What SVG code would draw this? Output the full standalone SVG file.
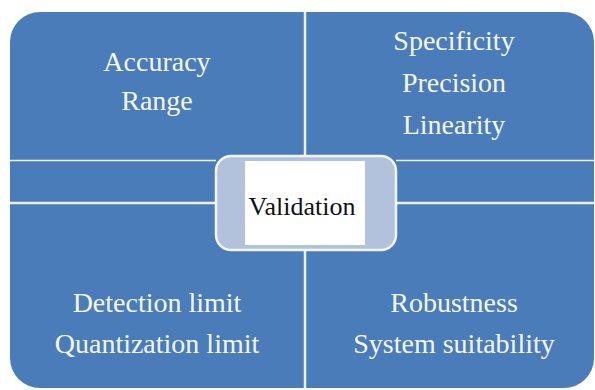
<svg xmlns="http://www.w3.org/2000/svg" width="595" height="390" viewBox="0 0 595 390">
<style>
.q{fill:#4A7CBA}
.t{font-family:'Liberation Serif','DejaVu Serif',serif;font-size:28px;fill:#F4F7FB;text-anchor:middle}
.ln{stroke:#EEF2F8;fill:none}
</style>
<rect width="595" height="390" fill="#ffffff"/>
<g id="matrix">
<rect class="q" x="10" y="12" width="584" height="376" rx="30" ry="30"/>
</g>
<g id="connectors">
<line class="ln" x1="305" y1="12" x2="305" y2="156" stroke-width="2.5"/>
<line class="ln" x1="305" y1="250" x2="305" y2="388" stroke-width="2.5"/>
<line class="ln" x1="10" y1="160.5" x2="216" y2="160.5" stroke-width="1.5"/>
<line class="ln" x1="396" y1="160.5" x2="594" y2="160.5" stroke-width="1.5"/>
<line class="ln" x1="10" y1="203" x2="216" y2="203" stroke-width="2.5"/>
<line class="ln" x1="396" y1="203" x2="594" y2="203" stroke-width="2.5"/>
</g>
<g id="q-top-left">
<text class="t" x="157" y="71">Accuracy</text>
<text class="t" x="157" y="110">Range</text>
</g>
<g id="q-top-right">
<text class="t" x="454" y="50">Specificity</text>
<text class="t" x="454" y="92">Precision</text>
<text class="t" x="454" y="134">Linearity</text>
</g>
<g id="q-bottom-left">
<text class="t" x="157" y="312">Detection limit</text>
<text class="t" x="157" y="353">Quantization limit</text>
</g>
<g id="q-bottom-right">
<text class="t" x="454" y="312">Robustness</text>
<text class="t" x="454" y="353">System suitability</text>
</g>
<g id="validation">
<rect x="216" y="156" width="180" height="94" rx="15" ry="15" fill="#B3C2DC" stroke="#F2F5FA" stroke-width="2.5"/>
<rect x="245" y="161" width="120" height="84" fill="#FFFFFF"/>
<text x="302" y="215" style="font-family:'Liberation Serif','DejaVu Serif',serif;font-size:26px" fill="#111111" text-anchor="middle">Validation</text>
</g>
</svg>
